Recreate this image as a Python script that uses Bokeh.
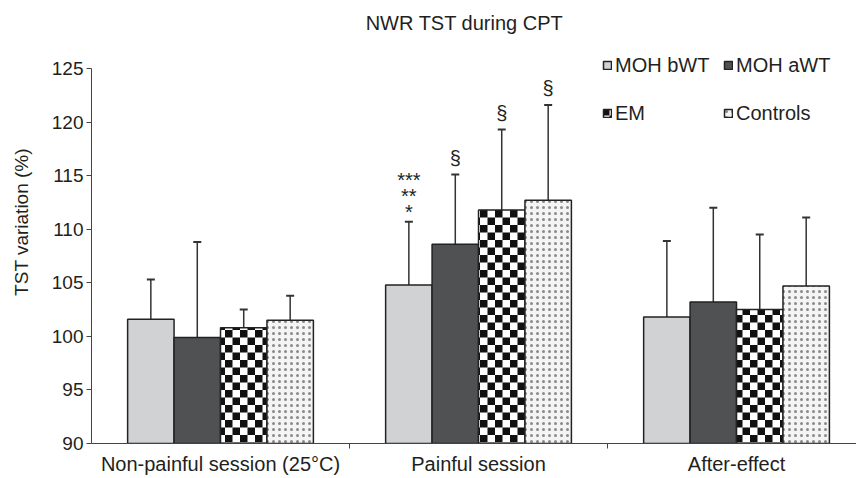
from bokeh.plotting import figure
from bokeh.models import (ColumnDataSource, FixedTicker, Whisker, TeeHead, Legend,
                          LegendItem, Label, Range1d, CanvasTexture)
from bokeh.core.properties import value
from bokeh.embed import file_html
from bokeh.resources import INLINE

categories = ["Non-painful session (25°C)", "Painful session", "After-effect"]
series = ["MOH bWT", "MOH aWT", "EM", "Controls"]
means = {
    "MOH bWT": [101.6, 104.8, 101.8],
    "MOH aWT": [99.9, 108.6, 103.2],
    "EM": [100.8, 111.8, 102.5],
    "Controls": [101.5, 112.7, 104.7],
}
sds = {
    "MOH bWT": [3.7, 5.9, 7.1],
    "MOH aWT": [8.9, 6.5, 8.8],
    "EM": [1.7, 7.5, 7.0],
    "Controls": [2.3, 8.9, 6.4],
}
stars = {
    "MOH bWT": ["", "***\n**\n*", ""],
    "MOH aWT": ["", "", ""],
    "EM": ["", "", ""],
    "Controls": ["", "", ""],
}
sections = {
    "MOH bWT": ["", "", ""],
    "MOH aWT": ["", "§", ""],
    "EM": ["", "§", ""],
    "Controls": ["", "§", ""],
}
y_ticks = [90, 95, 100, 105, 110, 115, 120, 125]

FONT = "Liberation Sans"
TXT = "#231f20"

checker = CanvasTexture(code="""
const c = ctx.canvas;
c.width = 15;
c.height = 15;
ctx.fillStyle = "#ffffff";
ctx.fillRect(0, 0, 15, 15);
ctx.fillStyle = "#111111";
ctx.fillRect(0, 0, 7.5, 7.5);
ctx.fillRect(7.5, 7.5, 7.5, 7.5);
""")

styles = {
    "MOH bWT": dict(fill_color="#d1d2d4"),
    "MOH aWT": dict(fill_color="#4f5153"),
    "EM": dict(fill_color="white", hatch_pattern=value("checkerboard"),
               hatch_extra={"checkerboard": checker},
               hatch_color="#111111", hatch_scale=15),
    "Controls": dict(fill_color="#f4f4f4", hatch_pattern="dot", hatch_color="#8a8a8a",
                     hatch_scale=6, hatch_weight=2),
}
offsets = [-0.27, -0.09, 0.09, 0.27]
bar_w = 0.18

p = figure(frame_width=765, frame_height=443, output_backend="svg", toolbar_location=None,
           x_range=Range1d(0, 2.965), y_range=Range1d(90, 131.35),
           min_border_left=91, min_border_right=0, min_border_top=0, min_border_bottom=35)
p.outline_line_color = None
p.xgrid.visible = False
p.ygrid.visible = False
p.background_fill_color = "white"

items = {}
for s, off in zip(series, offsets):
    xs = [i + 0.5 + off for i in range(len(categories))]
    tops = [m + e for m, e in zip(means[s], sds[s])]
    src = ColumnDataSource(dict(x=xs, top=means[s], err=tops, stars=stars[s], sect=sections[s]))
    r = p.vbar(x="x", top="top", bottom=90, width=bar_w, source=src,
               line_color="#222222", line_width=1.5, **styles[s])
    items[s] = LegendItem(label=s, renderers=[r])
    w = Whisker(base="x", lower="top", upper="err", source=src, dimension="height",
                line_color="#333333", line_width=1.5,
                upper_head=TeeHead(size=8, line_color="#333333", line_width=2), lower_head=None)
    p.add_layout(w)
    p.text(x="x", y="err", text="stars", source=src, text_align="center", text_baseline="bottom",
           y_offset=1, text_font=value(FONT), text_font_size="20px", text_color=TXT,
           text_line_height=0.72)
    p.text(x="x", y="err", text="sect", source=src, text_align="center", text_baseline="bottom",
           y_offset=-6, text_font=value(FONT), text_font_size="20px", text_color=TXT)

# axes
p.yaxis.ticker = FixedTicker(ticks=y_ticks)
p.yaxis.bounds = (90, 125)
p.yaxis.axis_label = "TST variation (%)"
p.yaxis.axis_label_text_font = FONT
p.yaxis.axis_label_text_font_style = "normal"
p.yaxis.axis_label_text_font_size = "19px"
p.yaxis.axis_label_text_color = TXT
p.yaxis.axis_label_standoff = 17
p.yaxis.major_label_text_font = FONT
p.yaxis.major_label_text_font_size = "19px"
p.yaxis.major_label_text_color = TXT
p.yaxis.major_tick_in = 0
p.yaxis.major_tick_out = 5
p.yaxis.minor_tick_out = 0
p.yaxis.minor_tick_in = 0
p.yaxis.major_label_standoff = 3
p.yaxis.axis_line_color = "#444444"
p.yaxis.major_tick_line_color = "#444444"

p.xaxis.ticker = FixedTicker(ticks=[0.5, 1.5, 2.5], minor_ticks=[1, 2])
p.xaxis.major_label_overrides = {0.5: categories[0], 1.5: categories[1], 2.5: categories[2]}
p.xaxis.major_tick_in = 0
p.xaxis.major_tick_out = 0
p.xaxis.minor_tick_in = 0
p.xaxis.minor_tick_out = 5
p.xaxis.major_label_standoff = 4
p.xaxis.major_label_text_font = FONT
p.xaxis.major_label_text_font_size = "20px"
p.xaxis.major_label_text_color = TXT
p.xaxis.axis_line_color = "#444444"
p.xaxis.minor_tick_line_color = "#444444"

legend_order = ["MOH bWT", "EM", "MOH aWT", "Controls"]
legend = Legend(items=[items[s] for s in legend_order], ncols=2, location=(511, 306), spacing=0,
                padding=0, margin=0, glyph_width=10, glyph_height=10, label_standoff=3,
                label_height=48, label_width=108, label_text_font=FONT, label_text_font_size="20px",
                label_text_color=TXT, border_line_color=None, background_fill_alpha=0)
p.add_layout(legend)

title = Label(x=1.446, y=125, y_offset=46, text="NWR TST during CPT", text_align="center",
              text_baseline="middle", text_font=FONT, text_font_size="20px", text_color=TXT)
p.add_layout(title)

open("out.html", "w").write(file_html(p, INLINE))
